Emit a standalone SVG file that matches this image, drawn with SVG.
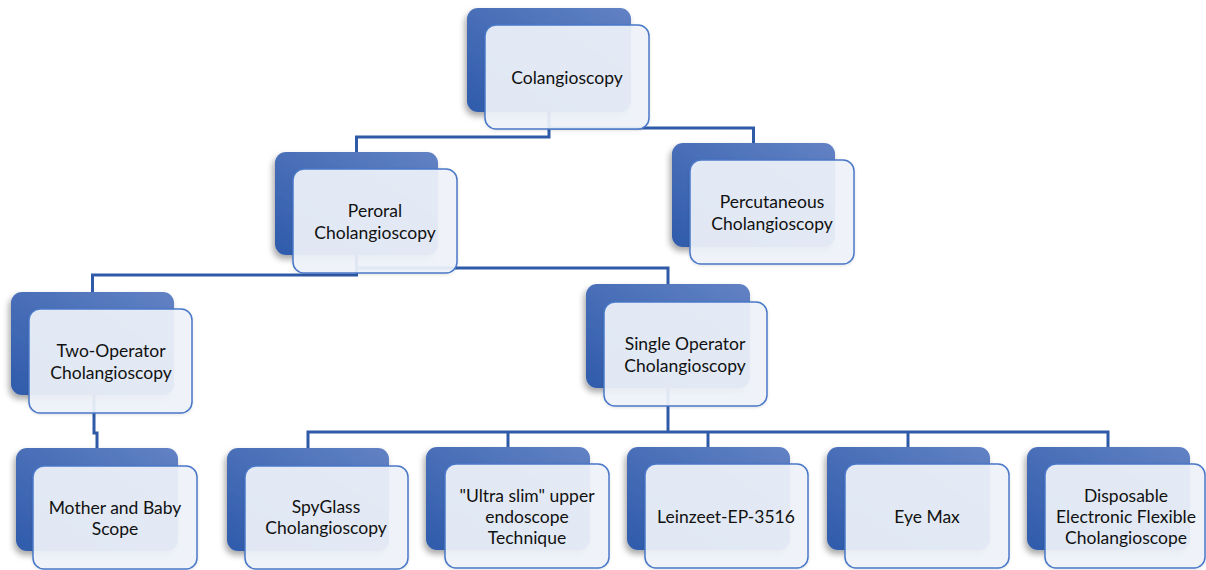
<svg xmlns="http://www.w3.org/2000/svg" width="1206" height="570" viewBox="0 0 1206 570">
<defs>
<linearGradient id="bg" x1="1" y1="0" x2="0" y2="1">
<stop offset="0" stop-color="#6282c4"/>
<stop offset="1" stop-color="#2f5bab"/>
</linearGradient>
<filter id="sh" x="-20%" y="-20%" width="140%" height="150%">
<feDropShadow dx="-2" dy="4" stdDeviation="3" flood-color="#000" flood-opacity="0.35"/>
</filter>
<filter id="sh2" x="-20%" y="-20%" width="140%" height="150%">
<feDropShadow dx="0" dy="1" stdDeviation="1.5" flood-color="#000" flood-opacity="0.12"/>
</filter>
</defs>
<style>
.back{fill:url(#bg);filter:url(#sh);}
.front{fill:#eff3fa;fill-opacity:0.92;stroke:#4a78c8;stroke-width:1.5;filter:url(#sh2);}
.lbl{font-family:Lato,"Liberation Sans",sans-serif;font-size:17.5px;fill:#111;text-anchor:middle;dominant-baseline:central;}
.con{fill:none;stroke:#2f5aa8;stroke-width:3;}
</style>
<rect width="1206" height="570" fill="#fff"/>
<g id="connectors" class="con">
<path d="M549,112 V137 H356.5 V152"/>
<path d="M549,112 V128 H753.5 V143"/>
<path d="M356.5,255 V275 H92.5 V292"/>
<path d="M356.5,255 V268 H668 V284"/>
<path d="M94,395 V433 H97 V448"/>
<path d="M668,388 V432"/>
<path d="M308,448 V432 H1108 V447"/>
<path d="M508,432 V447"/>
<path d="M708,432 V447"/>
<path d="M908,432 V447"/>
</g>
<g id="n-colangioscopy">
<rect class="back" x="467" y="8" width="164" height="104" rx="11"/>
<rect class="front" x="485" y="25" width="164" height="104" rx="11"/>
<text class="lbl" x="567" y="77">Colangioscopy</text>
</g>
<g id="n-peroral">
<rect class="back" x="275" y="152" width="163" height="103" rx="11"/>
<rect class="front" x="293" y="169" width="164" height="104" rx="11"/>
<text class="lbl" x="375" y="210">Peroral</text>
<text class="lbl" x="375" y="232">Cholangioscopy</text>
</g>
<g id="n-percutaneous">
<rect class="back" x="672" y="143" width="163" height="104" rx="11"/>
<rect class="front" x="690" y="160" width="164" height="104" rx="11"/>
<text class="lbl" x="772" y="201">Percutaneous</text>
<text class="lbl" x="772" y="223">Cholangioscopy</text>
</g>
<g id="n-twooperator">
<rect class="back" x="11" y="292" width="163" height="103" rx="11"/>
<rect class="front" x="29" y="309" width="163" height="104" rx="11"/>
<text class="lbl" x="111" y="350">Two-Operator</text>
<text class="lbl" x="111" y="372">Cholangioscopy</text>
</g>
<g id="n-singleoperator">
<rect class="back" x="586" y="284" width="164" height="104" rx="11"/>
<rect class="front" x="604" y="302" width="163" height="104" rx="11"/>
<text class="lbl" x="685" y="343">Single Operator</text>
<text class="lbl" x="685" y="365">Cholangioscopy</text>
</g>
<g id="n-mother">
<rect class="back" x="16" y="448" width="162" height="103" rx="11"/>
<rect class="front" x="33" y="466" width="164" height="103" rx="11"/>
<text class="lbl" x="115" y="507">Mother and Baby</text>
<text class="lbl" x="115" y="528">Scope</text>
</g>
<g id="n-spyglass">
<rect class="back" x="227" y="448" width="162" height="103" rx="11"/>
<rect class="front" x="245" y="466" width="163" height="103" rx="11"/>
<text class="lbl" x="326" y="506">SpyGlass</text>
<text class="lbl" x="326" y="527">Cholangioscopy</text>
</g>
<g id="n-ultraslim">
<rect class="back" x="426" y="447" width="164" height="103" rx="11"/>
<rect class="front" x="445" y="464" width="164" height="104" rx="11"/>
<text class="lbl" x="527" y="495">"Ultra slim" upper</text>
<text class="lbl" x="527" y="516">endoscope</text>
<text class="lbl" x="527" y="537">Technique</text>
</g>
<g id="n-leinzeet">
<rect class="back" x="627" y="447" width="163" height="103" rx="11"/>
<rect class="front" x="645" y="464" width="163" height="104" rx="11"/>
<text class="lbl" x="726" y="516">Leinzeet-EP-3516</text>
</g>
<g id="n-eyemax">
<rect class="back" x="827" y="447" width="163" height="103" rx="11"/>
<rect class="front" x="845" y="464" width="164" height="104" rx="11"/>
<text class="lbl" x="927" y="516">Eye Max</text>
</g>
<g id="n-disposable">
<rect class="back" x="1027" y="447" width="163" height="103" rx="11"/>
<rect class="front" x="1045" y="464" width="160" height="104" rx="11"/>
<text class="lbl" x="1126" y="495">Disposable</text>
<text class="lbl" x="1126" y="516">Electronic Flexible</text>
<text class="lbl" x="1126" y="537">Cholangioscope</text>
</g>
</svg>
